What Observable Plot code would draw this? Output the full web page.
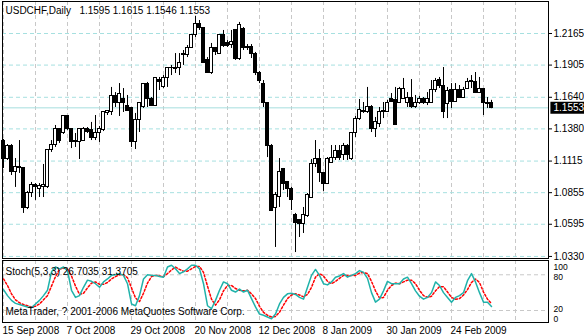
<!DOCTYPE html>
<html><head><meta charset="utf-8">
<script src="https://cdn.jsdelivr.net/npm/d3@7"></script>
<script src="https://cdn.jsdelivr.net/npm/@observablehq/plot@0.6"></script>
<style>
body{margin:0;background:#fff;}
#chart svg{display:block;}
</style></head><body><div id="chart"></div>
<script>
const symbol = "USDCHF", period = "Daily";
const open = [1.1284,1.1128,1.1243,1.1029,1.1070,1.1054,1.0725,1.0856,1.0922,1.0889,
1.0898,1.0898,1.1210,1.1251,1.1375,1.1342,1.1482,1.1383,1.1284,1.1268,
1.1284,1.1383,1.1367,1.1309,1.1350,1.1367,1.1507,1.1515,1.1647,1.1589,
1.1630,1.1572,1.1548,1.1268,1.1449,1.1556,1.1753,1.1630,1.1572,1.1786,
1.1721,1.1795,1.1885,1.1885,1.1877,1.2000,1.1992,1.2042,1.2149,1.2247,
1.2214,1.1943,1.1836,1.2042,1.2000,1.2149,1.2083,1.2074,1.2190,1.1959,
1.2206,1.2042,1.2050,1.2000,1.1844,1.1753,1.1589,1.1243,1.0725,1.0823,
1.1046,1.0939,1.0889,1.0675,1.0626,1.0601,1.0659,1.0815,1.1095,1.1136,
1.1013,1.0930,1.1103,1.1144,1.1194,1.1161,1.1243,1.1128,1.1342,1.1465,
1.1523,1.1523,1.1564,1.1375,1.1424,1.1515,1.1523,1.1630,1.1614,1.1597,
1.1630,1.1597,1.1638,1.1564,1.1589,1.1630,1.1589,1.1597,1.1696,1.1786,
1.1737,1.1581,1.1704,1.1605,1.1704,1.1638,1.1712,1.1770,1.1762,1.1679,
1.1712,1.1581,1.1595];
const high = [1.1293,1.1251,1.1251,1.1136,1.1284,1.1062,1.0865,1.0939,1.0930,1.0930,
1.1087,1.1210,1.1284,1.1408,1.1383,1.1490,1.1490,1.1383,1.1342,1.1383,
1.1391,1.1391,1.1433,1.1490,1.1400,1.1515,1.1531,1.1721,1.1679,1.1753,
1.1712,1.1655,1.1556,1.1507,1.1589,1.1753,1.1762,1.1638,1.1795,1.1803,
1.1819,1.1885,1.1902,1.2000,1.2000,1.2025,1.2066,1.2149,1.2305,1.2272,
1.2214,1.1967,1.2083,1.2050,1.2149,1.2190,1.2107,1.2190,1.2190,1.2256,
1.2214,1.2074,1.2074,1.2009,1.1852,1.1778,1.1597,1.1251,1.0856,1.1136,
1.1054,1.0947,1.0898,1.0684,1.0634,1.0733,1.0848,1.1128,1.1284,1.1210,
1.1021,1.1144,1.1243,1.1243,1.1243,1.1260,1.1251,1.1350,1.1482,1.1622,
1.1597,1.1721,1.1572,1.1474,1.1556,1.1597,1.1614,1.1671,1.1721,1.1721,
1.1795,1.1679,1.1786,1.1655,1.1647,1.1638,1.1679,1.1778,1.1795,1.1803,
1.1885,1.1721,1.1753,1.1753,1.1737,1.1721,1.1795,1.1819,1.1844,1.1803,
1.1712,1.1638,1.1615];
const low = [1.1054,1.1120,1.0996,1.0898,1.1013,1.0684,1.0716,1.0815,1.0791,1.0815,
1.0815,1.0889,1.1186,1.1227,1.1260,1.1334,1.1367,1.1218,1.1227,1.1128,
1.1276,1.1342,1.1284,1.1284,1.1268,1.1358,1.1490,1.1490,1.1556,1.1482,
1.1515,1.1531,1.1227,1.1210,1.1350,1.1548,1.1556,1.1564,1.1564,1.1696,
1.1712,1.1721,1.1819,1.1836,1.1819,1.1902,1.1967,1.2042,1.2132,1.2190,
1.1918,1.1836,1.1828,1.1984,1.1992,1.2050,1.2050,1.2042,1.1943,1.1943,
1.2025,1.2025,1.1959,1.1819,1.1753,1.1556,1.1144,1.0700,1.0404,1.0733,
1.0873,1.0815,1.0708,1.0362,1.0486,1.0519,1.0651,1.0807,1.1062,1.0939,
1.0865,1.0922,1.1095,1.1120,1.1120,1.1120,1.1120,1.1120,1.1309,1.1449,
1.1507,1.1507,1.1350,1.1309,1.1391,1.1465,1.1515,1.1597,1.1408,1.1597,
1.1630,1.1556,1.1548,1.1548,1.1581,1.1581,1.1572,1.1589,1.1679,1.1712,
1.1465,1.1465,1.1548,1.1597,1.1630,1.1630,1.1704,1.1712,1.1671,1.1671,
1.1490,1.1548,1.1546];
const close = [1.1136,1.1243,1.1029,1.1070,1.1054,1.0725,1.0856,1.0922,1.0898,1.0906,
1.0922,1.1210,1.1251,1.1375,1.1284,1.1482,1.1375,1.1268,1.1268,1.1383,
1.1383,1.1358,1.1309,1.1350,1.1375,1.1515,1.1531,1.1647,1.1589,1.1671,
1.1589,1.1531,1.1268,1.1449,1.1589,1.1753,1.1630,1.1572,1.1795,1.1762,
1.1795,1.1885,1.1877,1.1869,1.1926,1.1984,1.2042,1.2149,1.2247,1.2214,
1.1926,1.1836,1.2042,1.2009,1.2149,1.2066,1.2066,1.2099,1.1959,1.2231,
1.2042,1.2058,1.2000,1.1836,1.1770,1.1589,1.1235,1.0708,1.0832,1.1029,
1.0930,1.0889,1.0791,1.0609,1.0601,1.0675,1.0832,1.1087,1.1136,1.1013,
1.0930,1.1136,1.1144,1.1194,1.1144,1.1243,1.1161,1.1350,1.1465,1.1539,
1.1531,1.1564,1.1375,1.1433,1.1515,1.1531,1.1597,1.1605,1.1416,1.1712,
1.1712,1.1638,1.1556,1.1589,1.1630,1.1597,1.1630,1.1696,1.1778,1.1729,
1.1515,1.1688,1.1605,1.1704,1.1638,1.1704,1.1762,1.1762,1.1679,1.1712,
1.1597,1.1597,1.1553];
const stochK = [55,45,37,32,30,28,26,25,31,37, 45,54,85,93,90,93,87,54,42,45,
59,71,69,65,59,68,73,79,80,82, 79,65,31,28,45,73,80,79,79,77,
76,93,96,90,82,85,90,96,96,90, 65,28,23,37,54,68,65,54,51,56,
51,54,40,26,14,12,9,6,14,31, 42,48,49,47,42,39,59,79,89,79,
65,63,68,76,78,82,76,79,82,87, 84,74,50,34,39,53,69,65,65,65,
73,76,65,53,44,39,42,50,68,62, 50,42,34,42,45,50,70,82,68,50,
34,34,26.7035];
const stochD = [73,62,48,38,33,30,28,26,27,31, 38,45,61,77,89,92,90,78,61,47,
49,58,66,68,64,64,67,73,77,80, 80,75,58,41,35,49,66,77,79,78,
77,82,88,93,89,86,86,90,94,94, 84,61,39,29,38,53,62,62,57,54,
53,54,48,40,27,17,12,9,10,17, 29,40,46,48,46,43,47,59,76,82,
78,69,65,69,74,79,79,79,79,83, 84,82,69,53,41,42,54,62,66,65,
68,71,71,65,54,45,42,44,53,60, 60,51,42,39,40,46,55,67,73,67,
51,39,31.3705];
const dateLabels = ["15 Sep 2008","7 Oct 2008","29 Oct 2008","20 Nov 2008","12 Dec 2008","8 Jan 2009","30 Jan 2009","24 Feb 2009"];
const dateTickIdx = [0,16,32,48,64,80,96,112];
const priceTicks = [1.2165,1.1905,1.1640,1.1380,1.1115,1.0855,1.0595,1.0330];
const stochLevels = [20,80];
const copyright = "MetaTrader, ? 2001-2006 MetaQuotes Software Corp.";

const bars = close.map((c, i) => ({i, o: open[i], h: high[i], l: low[i], c}));
const last = bars[bars.length - 1];
const xDomain = [-0.25, 136.25];
const gridX = d3.range(0, 129, 8);
const W = 584, mL = 2, mR = 36;
const style = {fontFamily: "'Liberation Sans', Arial, sans-serif", fontSize: "10px", background: "white", color: "black", overflow: "visible"};
const f4 = d => d.toFixed(4);
const title = `${symbol},${period}\u00a0\u00a0 ${f4(last.o)} ${f4(last.h)} ${f4(last.l)} ${f4(last.c)}`;
const stochTitle = `Stoch(5,3,3) ${f4(stochK[stochK.length-1])} ${f4(stochD[stochD.length-1])}`;

const main = Plot.plot({
  width: W, height: 259, marginLeft: mL, marginRight: mR, marginTop: 1, marginBottom: 1,
  style,
  x: {domain: xDomain, axis: null},
  y: {domain: [1.03131, 1.24284], axis: null},
  marks: [
    Plot.ruleX(gridX, {stroke: "#c8c8c8", strokeDasharray: "4,3"}),
    Plot.ruleY(priceTicks, {stroke: "#a6e0e0", strokeDasharray: "4,3"}),
    Plot.ruleY([last.c], {stroke: "#a6dede"}),
    Plot.ruleX(bars, {x: "i", y1: "l", y2: "h", stroke: "black"}),
    Plot.rect(bars, {x1: d => d.i - 0.375, x2: d => d.i + 0.375, y1: "o", y2: "c",
      fill: d => d.c >= d.o ? "white" : "black", stroke: "black", shapeRendering: "crispEdges"}),
    Plot.frame({stroke: "black"}),
    Plot.axisY(priceTicks, {anchor: "right", tickSize: 3, tickPadding: 2, tickFormat: f4, fontSize: 10}),
    Plot.ruleY([last.c], {x1: xDomain[1] + 0.6, x2: xDomain[1] + 9, stroke: "black", strokeWidth: 12}),
    Plot.text([last.c], {x: xDomain[1], y: d => d, dx: 5, text: f4, fill: "white", textAnchor: "start"}),
    Plot.text([title], {frameAnchor: "top-left", dx: 3, dy: 5, textAnchor: "start", lineAnchor: "top"})
  ]
});

const stoch = Plot.plot({
  width: W, height: 77, marginLeft: mL, marginRight: mR, marginTop: 1, marginBottom: 14,
  style,
  x: {domain: xDomain, axis: null},
  y: {domain: [-0.17, 104], axis: null},
  marks: [
    Plot.ruleX(gridX, {stroke: "#c8c8c8", strokeDasharray: "4,3"}),
    Plot.ruleY(stochLevels, {stroke: "#c8c8c8", strokeDasharray: "4,3"}),
    Plot.line(stochD, {x: (d, i) => i, y: d => d, stroke: "red", strokeDasharray: "2,2"}),
    Plot.line(stochK, {x: (d, i) => i, y: d => d, stroke: "#20b2aa"}),
    Plot.frame({stroke: "black"}),
    Plot.text([100], {x: xDomain[1], y: d => d, dx: 5, dy: 4.6, text: String, textAnchor: "start", fontSize: 8.5}),
    Plot.text([80], {x: xDomain[1], y: d => d, dx: 5, dy: 2.8, text: String, textAnchor: "start", fontSize: 8.5}),
    Plot.text([20], {x: xDomain[1], y: d => d, dx: 5, dy: -1, text: String, textAnchor: "start", fontSize: 8.5}),
    Plot.text([0], {x: xDomain[1], y: d => d, dx: 5, dy: -3, text: String, textAnchor: "start", fontSize: 8.5}),
    Plot.axisX(dateTickIdx, {anchor: "bottom", tickSize: 0, tickPadding: 4, textAnchor: "start", dx: -1,
      tickFormat: d => dateLabels[dateTickIdx.indexOf(d)], fontSize: 10}),
    Plot.text([stochTitle], {frameAnchor: "top-left", dx: 3, dy: 11, textAnchor: "start", lineAnchor: "middle"}),
    Plot.text([copyright], {frameAnchor: "bottom-left", dx: 3, dy: -11, textAnchor: "start", lineAnchor: "middle"})
  ]
});

const root = document.getElementById("chart");
root.appendChild(main);
root.appendChild(stoch);
</script></body></html>
